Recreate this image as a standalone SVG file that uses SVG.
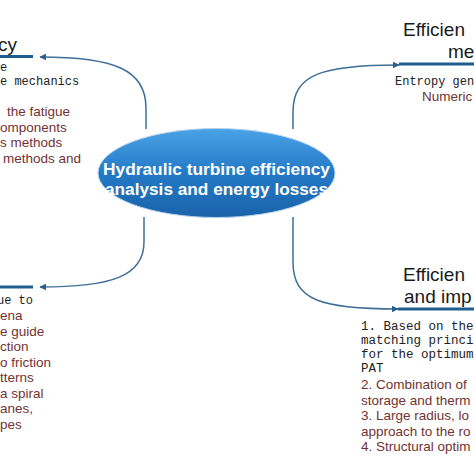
<svg xmlns="http://www.w3.org/2000/svg" width="474" height="474" viewBox="0 0 474 474">
<defs>
<linearGradient id="eg" x1="0" y1="0" x2="0" y2="1">
<stop offset="0" stop-color="#4aa3e6"/>
<stop offset="0.5" stop-color="#2479c6"/>
<stop offset="1" stop-color="#1a63aa"/>
</linearGradient>
<marker id="arr" viewBox="0 0 10 10" refX="9" refY="5" markerWidth="7" markerHeight="7" markerUnits="userSpaceOnUse" orient="auto">
<path d="M0,0 L10,5 L0,10 Z" fill="#2a5f8f"/>
</marker>
<style>
.conn{fill:none;stroke:#3f6f98;stroke-width:1.5}
.bar{stroke:#1f5c8f;stroke-width:3}
.title{font-family:"Liberation Sans",Arial,sans-serif;font-size:19px;fill:#1a1a1a}
.mono{font-family:"Liberation Mono","Courier New",monospace;font-size:12px;fill:#222}
.mono2{font-family:"Liberation Mono","Courier New",monospace;font-size:12.5px;fill:#222}
.brown{font-family:"Liberation Sans",Arial,sans-serif;font-size:13.5px;fill:#733232}
.ctext{font-family:"Liberation Sans",Arial,sans-serif;font-size:17px;font-weight:bold;fill:#ffffff;text-anchor:middle}
</style>
</defs>
<rect width="474" height="474" fill="#ffffff"/>
<g id="connectors">
<path class="conn" d="M146,129 L146,108 C146,70 115,57 40,57" marker-end="url(#arr)"/>
<path class="conn" d="M293,129 L293,112 C293,75 320,65 399,65" marker-end="url(#arr)"/>
<path class="conn" d="M144,217 L144,242 C144,277 110,287 40,287" marker-end="url(#arr)"/>
<path class="conn" d="M293,217 L293,262 C293,300 320,309 398,309" marker-end="url(#arr)"/>
</g>
<g id="center">
<ellipse cx="216.5" cy="173" rx="118.5" ry="44.5" fill="url(#eg)" stroke="#b9d3ec" stroke-width="1"/>
<text class="ctext" x="216.5" y="175" textLength="227" lengthAdjust="spacingAndGlyphs">Hydraulic turbine efficiency</text>
<text class="ctext" x="216.5" y="195" textLength="223" lengthAdjust="spacingAndGlyphs">analysis and energy losses</text>
</g>
<g id="node-top-left">
<text class="title" x="-2" y="51">cy</text>
<line class="bar" x1="0" y1="56.5" x2="33" y2="56.5"/>
<text class="mono" x="0" y="71">e</text>
<text class="mono" x="0" y="85">e mechanics</text>
<text class="brown" x="7" y="116">the fatigue</text>
<text class="brown" x="0" y="132">omponents</text>
<text class="brown" x="0" y="147">s methods</text>
<text class="brown" x="3" y="163">methods and</text>
</g>
<g id="node-top-right">
<text class="title" x="403" y="36">Efficien</text>
<text class="title" x="448" y="58">me</text>
<line class="bar" x1="399" y1="64" x2="474" y2="64"/>
<text class="mono" x="395" y="85">Entropy gen</text>
<text class="brown" x="422" y="101">Numeric</text>
</g>
<g id="node-bottom-left">
<line class="bar" x1="0" y1="287" x2="33" y2="287"/>
<text class="mono" x="-3" y="304">ue to</text>
<text class="brown" x="0" y="320">ena</text>
<text class="brown" x="0" y="335.5">e guide</text>
<text class="brown" x="0" y="351">ction</text>
<text class="brown" x="0" y="366.5">o friction</text>
<text class="brown" x="0" y="382">tterns</text>
<text class="brown" x="0" y="397.5">a spiral</text>
<text class="brown" x="0" y="413">anes,</text>
<text class="brown" x="0" y="428.5">pes</text>
</g>
<g id="node-bottom-right">
<text class="title" x="403" y="281">Efficien</text>
<text class="title" x="404" y="303">and imp</text>
<line class="bar" x1="398" y1="309" x2="474" y2="309"/>
<text class="mono2" x="361" y="330">1. Based on the</text>
<text class="mono2" x="361" y="344">matching princi</text>
<text class="mono2" x="361" y="358">for the optimum</text>
<text class="mono2" x="361" y="372">PAT</text>
<text class="brown" x="361" y="389">2. Combination of</text>
<text class="brown" x="361" y="404.5">storage and therm</text>
<text class="brown" x="361" y="420">3. Large radius, lo</text>
<text class="brown" x="361" y="435.5">approach to the ro</text>
<text class="brown" x="361" y="451">4. Structural optim</text>
</g>
</svg>
